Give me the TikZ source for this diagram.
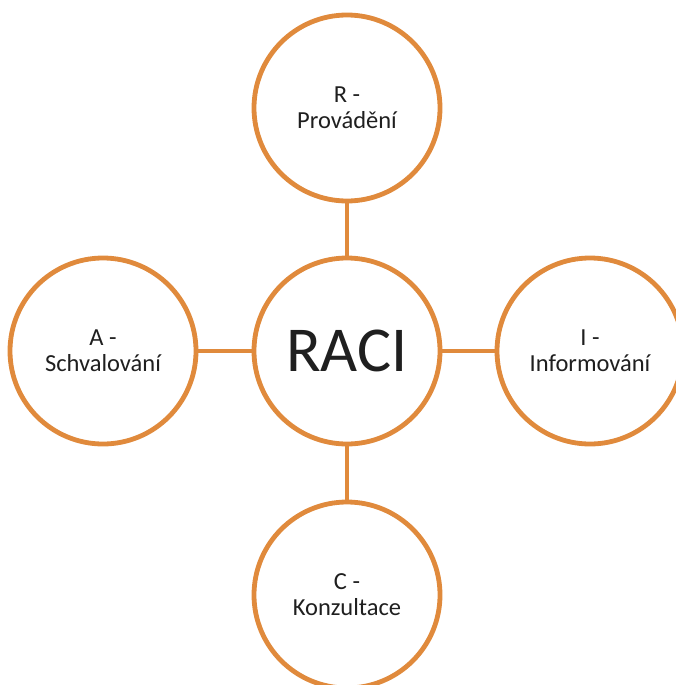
\documentclass[tikz,border=0pt]{standalone}
\usepackage{fontspec}
\setmainfont{Carlito}
\usepackage{tikz}
\definecolor{raciorange}{HTML}{E08A3C}
\definecolor{racitext}{HTML}{1F1F1F}
\tikzstyle{role}=[circle, draw=raciorange, fill=white, line width=4.8pt, minimum size=186pt, inner sep=0pt, align=center, text=racitext, font=\fontsize{24.5}{26}\selectfont]
\tikzstyle{hub}=[role, font=\fontsize{64}{70}\selectfont]
\tikzstyle{link}=[draw=raciorange, line width=4.8pt]

\begin{document}
\begin{tikzpicture}[x=1pt, y=-1pt]
                    \useasboundingbox (0, 0) rectangle (675, 685);
                    \node[hub]  (raci) at (347, 351) {RACI};
                    \node[role] (r)    at (347, 108) {R -\\Provádění};
                    \node[role] (a)    at (103, 351) {A -\\Schvalování};
                    \node[role] (i)    at (590, 351) {I -\\Informování};
                    \node[role] (c)    at (347, 595) {C -\\Konzultace};
                    \draw[link] (r)--(raci);
                    \draw[link] (a)--(raci);
                    \draw[link] (i)--(raci);
                    \draw[link] (c)--(raci);
                \end{tikzpicture}
\end{document}
